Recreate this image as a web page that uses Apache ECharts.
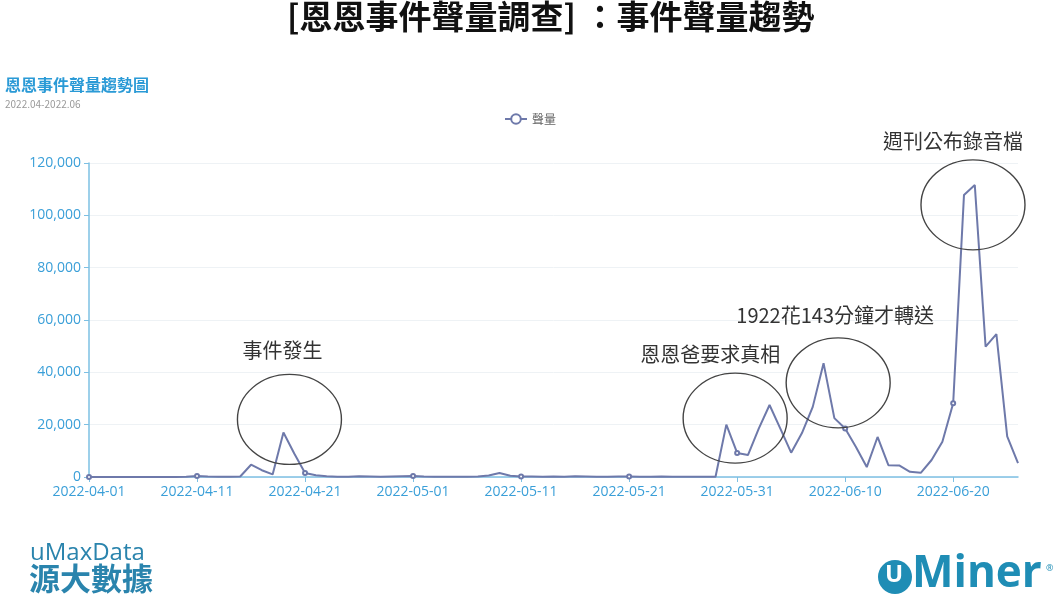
<!DOCTYPE html>
<html>
<head>
<meta charset="utf-8">
<script src="https://cdn.jsdelivr.net/npm/echarts@6/dist/echarts.min.js"></script>
<style>
html,body{margin:0;padding:0;background:#fff;}
#main{width:1060px;height:596px;}
</style>
</head>
<body>
<div id="main"></div>
<script>
// ---- data ----
var dayCount = 87;
var dates = [];
(function(){
  var d = new Date(Date.UTC(2022, 3, 1));
  for (var i = 0; i < dayCount; i++) {
    var t = new Date(d.getTime() + i * 86400000);
    var m = ('0' + (t.getUTCMonth() + 1)).slice(-2);
    var dd = ('0' + t.getUTCDate()).slice(-2);
    dates.push(t.getUTCFullYear() + '-' + m + '-' + dd);
  }
})();

var volume = [
  0, 0, 0, 0, 0, 0, 0, 0, 0, 100,
  400, 200, 100, 100, 200, 4700, 2600, 1000, 17000, 9000,
  1500, 700, 300, 100, 100, 300, 200, 100, 200, 300,
  400, 200, 100, 100, 100, 100, 200, 600, 1500, 500,
  200, 200, 100, 200, 100, 300, 200, 100, 100, 200,
  200, 100, 100, 200, 100, 100, 100, 100, 100, 20000,
  9200, 8400, 18500, 27500, 18500, 9300, 16800, 26800, 43500, 22500,
  18500, 11500, 3800, 15300, 4500, 4400, 2000, 1600, 6500, 13500,
  28200, 107800, 111600, 49800, 54600, 15500, 5300
];

var seriesName = '聲量';
var mainTitle = '[恩恩事件聲量調查] ：事件聲量趨勢';
var chartTitle = '恩恩事件聲量趨勢圖';
var chartSubtitle = '2022.04-2022.06';

var annoTexts = ['事件發生', '恩恩爸要求真相', '1922花143分鐘才轉送', '週刊公布錄音檔'];
var annoDates = ['2022-04-19', '2022-05-31', '2022-06-10', '2022-06-21'];
var annoValues = [22000, 22500, 36000, 104000];

// ---- layout of annotations (pixel offsets) ----
var annoEllipseOffsets = [[6, 0], [-2, 0], [-7, 0], [9, 0]];
var annoLabelOffsets = [[-7, 1], [-25, 6], [-3, 2], [-20, 6]];

var ellipsePath = 'path://M0,50A50,50,0,1,1,100,50A50,50,0,1,1,0,50Z';

var markData = annoTexts.map(function (t, i) {
  return {
    name: t,
    coord: [annoDates[i], annoValues[i]],
    symbolOffset: annoEllipseOffsets[i],
    label: { offset: annoLabelOffsets[i] }
  };
});

var blue = '#3a9fd8';
var lineColor = '#6e79aa';
var cjk = '"Noto Sans CJK TC", "Noto Sans", sans-serif';

var chart = echarts.init(document.getElementById('main'));
chart.setOption({
  backgroundColor: '#fff',
  animation: false,
  textStyle: { fontFamily: cjk },
  title: [
    {
      text: mainTitle,
      left: 282,
      top: -5,
      textStyle: { fontSize: 33, fontWeight: 'bold', color: '#111', fontFamily: cjk }
    },
    {
      text: chartTitle,
      subtext: chartSubtitle,
      left: 0,
      top: 72,
      itemGap: 6,
      textStyle: { fontSize: 16, fontWeight: 'bold', color: '#2a9ad6', fontFamily: cjk },
      subtextStyle: { fontSize: 10, color: '#999', fontFamily: cjk }
    }
  ],
  legend: {
    data: [seriesName],
    top: 108,
    left: 'center',
    itemWidth: 22,
    itemHeight: 12,
    textStyle: { fontSize: 12, color: '#666', fontFamily: cjk }
  },
  grid: { left: 89, right: 42, top: 163, bottom: 119 },
  xAxis: {
    type: 'category',
    data: dates,
    boundaryGap: false,
    axisLine: { lineStyle: { color: '#7dc0e3', width: 1.5 } },
    axisTick: { interval: 9, length: 5, lineStyle: { color: '#7dc0e3' } },
    axisLabel: { interval: 9, color: blue, fontSize: 14, margin: 8, fontFamily: '"Open Sans", sans-serif' },
    splitLine: { show: false }
  },
  yAxis: {
    type: 'value',
    min: 0,
    max: 120000,
    interval: 20000,
    axisLine: { show: true, lineStyle: { color: '#7dc0e3', width: 1.5 } },
    axisTick: { show: true, length: 5, lineStyle: { color: '#7dc0e3' } },
    axisLabel: {
      color: blue, fontSize: 14, margin: 8, fontFamily: '"Open Sans", sans-serif',
      formatter: function (v) { return v.toLocaleString('en-US'); }
    },
    splitLine: { show: true, lineStyle: { color: '#eef2f5' } }
  },
  series: [{
    name: seriesName,
    type: 'line',
    data: volume,
    symbol: 'emptyCircle',
    symbolSize: 4,
    showAllSymbol: false,
    itemStyle: { color: lineColor },
    lineStyle: { color: lineColor, width: 2 },
    markPoint: {
      symbol: ellipsePath,
      symbolSize: [104, 90],
      silent: true,
      itemStyle: { color: 'rgba(0,0,0,0)', borderColor: '#444', borderWidth: 1.3 },
      label: {
        show: true,
        position: 'top',
        distance: 14,
        formatter: '{b}',
        color: '#333',
        fontSize: 20,
        fontFamily: cjk
      },
      data: markData
    }
  }],
  graphic: [
    {
      type: 'text', left: 30, top: 541,
      style: { text: 'uMaxData', fontSize: 24, fontFamily: '"Open Sans", sans-serif', fill: '#2a84ad' }
    },
    {
      type: 'text', left: 29, top: 563,
      style: { text: '源大數據', fontSize: 31, fontWeight: 'bold', fontFamily: cjk, fill: '#2a84ad' }
    },
    {
      type: 'circle', shape: { cx: 895, cy: 577, r: 17 },
      style: { fill: '#1f8db5' }
    },
    {
      type: 'text', left: 885, top: 563,
      style: { text: 'U', fontSize: 24, fontWeight: 'bold', fontFamily: '"Open Sans", sans-serif', fill: '#fff' }
    },
    {
      type: 'text', left: 912, top: 552,
      style: { text: 'Miner', fontSize: 44, fontWeight: 'bold', fontFamily: '"Open Sans", sans-serif', fill: '#1f8db5' }
    },
    {
      type: 'text', left: 1046, top: 564,
      style: { text: '®', fontSize: 9, fontFamily: '"Open Sans", sans-serif', fill: '#1f8db5' }
    }
  ]
});
</script>
</body>
</html>
